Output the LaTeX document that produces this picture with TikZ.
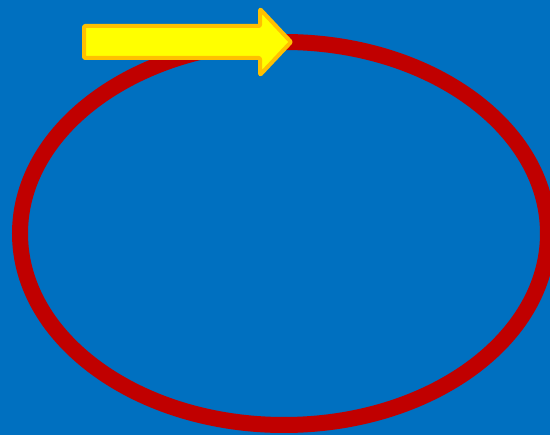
\documentclass[tikz,border=0pt]{standalone}
\definecolor{bg}{HTML}{0070C0}
\definecolor{ring}{HTML}{C00000}
\definecolor{arrowfill}{HTML}{FFFF00}
\definecolor{arrowline}{HTML}{FFC000}
\begin{document}
\begin{tikzpicture}[x=1pt,y=-1pt,
  ringstyle/.style={draw=ring,line width=16pt},
  arrowstyle/.style={fill=arrowfill,draw=arrowline,line width=4pt,line join=round,rounded corners=1pt}]
\useasboundingbox (0,0) rectangle (550,435);
\clip (0,0) rectangle (550,435);
\fill[bg] (0,0) rectangle (550,435);
\draw[ringstyle] (284,233.5) ellipse [x radius=264, y radius=191.5];
\draw[arrowstyle] (84,26) -- (260,26) -- (260,9) -- (291,42) -- (260,75) -- (260,58) -- (84,58) -- cycle;
\end{tikzpicture}
\end{document}
